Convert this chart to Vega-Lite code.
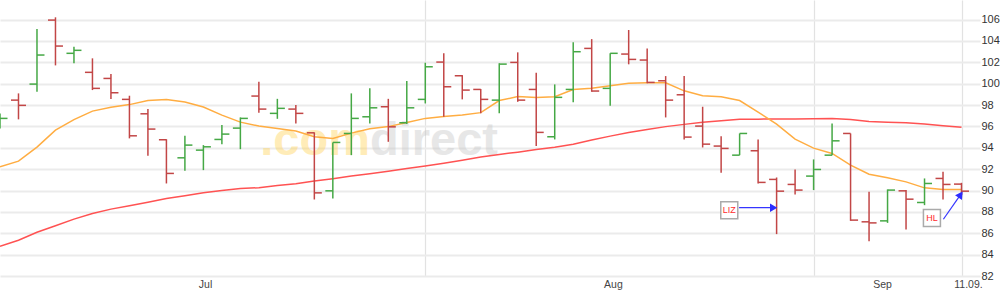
{
  "$schema": "https://vega.github.io/schema/vega-lite/v6.json",
  "width": 980,
  "height": 276,
  "autosize": {"type": "none"},
  "padding": {"left": 0, "top": 0, "right": 20, "bottom": 19},
  "background": "white",
  "config": {"view": {"stroke": null}, "font": "Liberation Sans"},
  "datasets": {
    "ohlc": [
      {"i": 0, "date": "2025-07-01", "o": 96.2, "h": 97.2, "l": 95.8, "c": 96.75, "ma1": 92.22, "ma2": 84.79},
      {"i": 1, "date": "2025-07-02", "o": 98.46, "h": 99.09, "l": 96.66, "c": 97.97, "ma1": 92.75, "ma2": 85.35},
      {"i": 2, "date": "2025-07-03", "o": 99.96, "h": 105.11, "l": 99.24, "c": 102.68, "ma1": 94.06, "ma2": 86.1},
      {"i": 3, "date": "2025-07-04", "o": 105.95, "h": 106.21, "l": 101.71, "c": 103.52, "ma1": 95.65, "ma2": 86.71},
      {"i": 4, "date": "2025-07-07", "o": 102.84, "h": 103.45, "l": 101.9, "c": 103.12, "ma1": 96.64, "ma2": 87.32},
      {"i": 5, "date": "2025-07-08", "o": 101.06, "h": 102.37, "l": 99.4, "c": 99.56, "ma1": 97.43, "ma2": 87.84},
      {"i": 6, "date": "2025-07-09", "o": 100.49, "h": 100.9, "l": 98.56, "c": 99.15, "ma1": 97.79, "ma2": 88.26},
      {"i": 7, "date": "2025-07-10", "o": 98.53, "h": 98.87, "l": 94.88, "c": 95.12, "ma1": 98.04, "ma2": 88.57},
      {"i": 8, "date": "2025-07-11", "o": 97.18, "h": 97.62, "l": 93.25, "c": 95.75, "ma1": 98.42, "ma2": 88.91},
      {"i": 9, "date": "2025-07-14", "o": 94.75, "h": 94.8, "l": 90.66, "c": 91.6, "ma1": 98.51, "ma2": 89.26},
      {"i": 10, "date": "2025-07-15", "o": 93.06, "h": 95.12, "l": 91.84, "c": 94.25, "ma1": 98.28, "ma2": 89.52},
      {"i": 11, "date": "2025-07-16", "o": 93.78, "h": 94.25, "l": 91.91, "c": 94.09, "ma1": 97.81, "ma2": 89.8},
      {"i": 12, "date": "2025-07-17", "o": 94.78, "h": 96.12, "l": 94.34, "c": 95.28, "ma1": 97.06, "ma2": 90.01},
      {"i": 13, "date": "2025-07-18", "o": 95.84, "h": 96.84, "l": 93.87, "c": 96.75, "ma1": 96.4, "ma2": 90.18},
      {"i": 14, "date": "2025-07-21", "o": 98.84, "h": 100.18, "l": 97.27, "c": 97.62, "ma1": 96.03, "ma2": 90.27},
      {"i": 15, "date": "2025-07-22", "o": 97.22, "h": 98.58, "l": 96.71, "c": 97.69, "ma1": 95.81, "ma2": 90.46},
      {"i": 16, "date": "2025-07-23", "o": 97.62, "h": 98.0, "l": 96.28, "c": 97.22, "ma1": 95.56, "ma2": 90.64},
      {"i": 17, "date": "2025-07-24", "o": 95.4, "h": 95.44, "l": 89.16, "c": 89.78, "ma1": 95.04, "ma2": 90.88},
      {"i": 18, "date": "2025-07-25", "o": 89.97, "h": 94.5, "l": 89.26, "c": 94.5, "ma1": 94.86, "ma2": 91.11},
      {"i": 19, "date": "2025-07-28", "o": 95.34, "h": 99.09, "l": 93.31, "c": 96.75, "ma1": 95.37, "ma2": 91.35},
      {"i": 20, "date": "2025-07-29", "o": 96.9, "h": 99.56, "l": 96.28, "c": 97.74, "ma1": 95.79, "ma2": 91.58},
      {"i": 21, "date": "2025-07-30", "o": 97.84, "h": 98.58, "l": 94.56, "c": 95.96, "ma1": 95.98, "ma2": 91.81},
      {"i": 22, "date": "2025-07-31", "o": 96.34, "h": 100.24, "l": 96.22, "c": 97.74, "ma1": 96.36, "ma2": 92.05},
      {"i": 23, "date": "2025-08-01", "o": 98.53, "h": 101.96, "l": 98.15, "c": 101.58, "ma1": 96.75, "ma2": 92.3},
      {"i": 24, "date": "2025-08-04", "o": 102.02, "h": 102.84, "l": 96.9, "c": 99.71, "ma1": 96.92, "ma2": 92.56},
      {"i": 25, "date": "2025-08-05", "o": 100.74, "h": 100.8, "l": 98.53, "c": 99.4, "ma1": 97.06, "ma2": 92.84},
      {"i": 26, "date": "2025-08-06", "o": 99.46, "h": 99.49, "l": 97.22, "c": 98.53, "ma1": 97.29, "ma2": 93.13},
      {"i": 27, "date": "2025-08-07", "o": 98.46, "h": 101.9, "l": 97.22, "c": 101.83, "ma1": 98.42, "ma2": 93.38},
      {"i": 28, "date": "2025-08-08", "o": 101.99, "h": 102.93, "l": 98.3, "c": 98.46, "ma1": 98.79, "ma2": 93.59},
      {"i": 29, "date": "2025-08-11", "o": 99.46, "h": 101.02, "l": 94.16, "c": 95.44, "ma1": 98.7, "ma2": 93.83},
      {"i": 30, "date": "2025-08-12", "o": 95.03, "h": 99.93, "l": 94.78, "c": 98.72, "ma1": 98.77, "ma2": 94.06},
      {"i": 31, "date": "2025-08-13", "o": 99.46, "h": 103.87, "l": 98.25, "c": 102.99, "ma1": 99.46, "ma2": 94.34},
      {"i": 32, "date": "2025-08-14", "o": 103.3, "h": 104.17, "l": 99.24, "c": 99.31, "ma1": 99.56, "ma2": 94.72},
      {"i": 33, "date": "2025-08-15", "o": 99.56, "h": 102.84, "l": 97.93, "c": 102.84, "ma1": 99.8, "ma2": 95.09},
      {"i": 34, "date": "2025-08-18", "o": 102.77, "h": 105.02, "l": 101.81, "c": 102.27, "ma1": 100.03, "ma2": 95.42},
      {"i": 35, "date": "2025-08-19", "o": 102.21, "h": 103.3, "l": 100.03, "c": 100.12, "ma1": 100.08, "ma2": 95.7},
      {"i": 36, "date": "2025-08-20", "o": 100.27, "h": 100.71, "l": 96.84, "c": 98.46, "ma1": 100.08, "ma2": 95.98},
      {"i": 37, "date": "2025-08-21", "o": 98.96, "h": 100.71, "l": 94.78, "c": 95.0, "ma1": 99.33, "ma2": 96.19},
      {"i": 38, "date": "2025-08-22", "o": 96.03, "h": 97.84, "l": 94.03, "c": 94.34, "ma1": 98.87, "ma2": 96.4},
      {"i": 39, "date": "2025-08-25", "o": 94.16, "h": 95.09, "l": 91.66, "c": 93.94, "ma1": 98.77, "ma2": 96.54},
      {"i": 40, "date": "2025-08-26", "o": 93.31, "h": 95.34, "l": 93.31, "c": 95.34, "ma1": 98.42, "ma2": 96.66},
      {"i": 41, "date": "2025-08-27", "o": 93.72, "h": 94.78, "l": 90.66, "c": 90.76, "ma1": 97.34, "ma2": 96.68},
      {"i": 42, "date": "2025-08-28", "o": 91.04, "h": 91.22, "l": 85.92, "c": 89.94, "ma1": 96.22, "ma2": 96.7},
      {"i": 43, "date": "2025-08-29", "o": 90.57, "h": 91.97, "l": 89.63, "c": 90.04, "ma1": 94.81, "ma2": 96.7},
      {"i": 44, "date": "2025-09-01", "o": 91.35, "h": 92.91, "l": 90.04, "c": 91.97, "ma1": 93.97, "ma2": 96.71},
      {"i": 45, "date": "2025-09-02", "o": 93.31, "h": 96.28, "l": 93.31, "c": 94.65, "ma1": 93.47, "ma2": 96.75},
      {"i": 46, "date": "2025-09-03", "o": 95.34, "h": 95.34, "l": 87.16, "c": 87.23, "ma1": 92.38, "ma2": 96.64},
      {"i": 47, "date": "2025-09-04", "o": 87.07, "h": 89.88, "l": 85.26, "c": 86.97, "ma1": 91.53, "ma2": 96.45},
      {"i": 48, "date": "2025-09-05", "o": 87.16, "h": 90.1, "l": 86.97, "c": 90.04, "ma1": 91.19, "ma2": 96.4},
      {"i": 49, "date": "2025-09-08", "o": 89.97, "h": 90.04, "l": 86.36, "c": 89.19, "ma1": 90.81, "ma2": 96.34},
      {"i": 50, "date": "2025-09-09", "o": 88.88, "h": 91.13, "l": 88.63, "c": 90.66, "ma1": 90.25, "ma2": 96.22},
      {"i": 51, "date": "2025-09-10", "o": 91.13, "h": 91.75, "l": 89.16, "c": 90.57, "ma1": 90.1, "ma2": 96.07},
      {"i": 52, "date": "2025-09-11", "o": 90.6, "h": 90.72, "l": 89.57, "c": 89.94, "ma1": 90.1, "ma2": 95.91}
    ],
    "notes": [
      {"label": "LIZ", "bi": 39.44, "bp": 88.15, "a1i": 39.97, "a1p": 88.39, "a2i": 41.84, "a2p": 88.39, "head": "triangle-right", "ang": 0},
      {"label": "HL", "bi": 50.4, "bp": 87.43, "a1i": 51.02, "a1p": 87.31, "a2i": 51.95, "a2p": 89.62, "head": "triangle-up", "ang": 35}
    ],
    "wm": [
      {"t": ".com", "i": 20.01, "p": 93.32},
      {"t": "direct", "i": 20.01, "p": 93.32}
    ]
  },
  "layer": [
    {
      "data": {"name": "ohlc"},
      "mark": {"type": "rule", "strokeWidth": 0, "opacity": 0},
      "encoding": {
        "x": {"field": "i", "type": "quantitative", "title": null,
          "scale": {"domain": [0, 53], "nice": false, "zero": false},
          "axis": {
            "values": [11.09, 23, 33.15, 44, 47.7, 52, 52.35],
            "tickCount": 20,
            "labelExpr": "datum.value == 11.09 ? 'Jul' : datum.value == 33.15 ? 'Aug' : datum.value == 47.7 ? 'Sep' : datum.value == 52.35 ? '11.09.' : ''",
            "grid": true,
            "gridColor": "#e2e2e2",
            "gridWidth": 1.2,
            "gridOpacity": {"condition": {"test": "datum.value == 23 || datum.value == 44 || datum.value == 52", "value": 1}, "value": 0},
            "ticks": false, "domain": false, "labelPadding": 3,
            "labelFontSize": 10.5, "labelColor": "#444", "labelOverlap": false, "labelFlush": false, "labelFont": "Liberation Sans"
          }
        },
        "y": {"field": "h", "type": "quantitative", "title": null,
          "scale": {"domain": [82, 107.83], "nice": false, "zero": false},
          "axis": {
            "orient": "right",
            "values": [82, 84, 86, 88, 90, 92, 94, 96, 98, 100, 102, 104, 106],
            "tickCount": 20,
            "grid": true, "gridColor": "#ebebeb", "gridWidth": 2,
            "ticks": false, "domain": false, "labelPadding": 1,
            "labelOverlap": false, "labelFlush": false, "labelBound": false,
            "labelFontSize": 11, "labelColor": "#333", "labelFont": "Liberation Sans"
          }
        }
      }
    },
    {
      "data": {"name": "wm"},
      "transform": [{"filter": "datum.t == '.com'"}],
      "mark": {"type": "text", "align": "right", "baseline": "alphabetic", "font": "Liberation Sans", "fontWeight": "bold", "fontSize": 47, "color": "#ffd24f", "opacity": 0.4},
      "encoding": {
        "x": {"field": "i", "type": "quantitative", "title": null},
        "y": {"field": "p", "type": "quantitative", "title": null},
        "text": {"field": "t"}
      }
    },
    {
      "data": {"name": "wm"},
      "transform": [{"filter": "datum.t == 'direct'"}],
      "mark": {"type": "text", "align": "left", "baseline": "alphabetic", "font": "Liberation Sans", "fontWeight": "bold", "fontSize": 47, "color": "#c4c4c4", "opacity": 0.4},
      "encoding": {
        "x": {"field": "i", "type": "quantitative", "title": null},
        "y": {"field": "p", "type": "quantitative", "title": null},
        "text": {"field": "t"}
      }
    },
    {
      "data": {"name": "ohlc"},
      "mark": {"type": "line", "color": "#ff5252", "strokeWidth": 1.5, "clip": true},
      "encoding": {
        "x": {"field": "i", "type": "quantitative", "title": null},
        "y": {"field": "ma2", "type": "quantitative", "title": null}
      }
    },
    {
      "data": {"name": "ohlc"},
      "mark": {"type": "line", "color": "#ffad42", "strokeWidth": 1.5, "clip": true},
      "encoding": {
        "x": {"field": "i", "type": "quantitative", "title": null},
        "y": {"field": "ma1", "type": "quantitative", "title": null}
      }
    },
    {
      "data": {"name": "ohlc"},
      "mark": {"type": "rule", "strokeWidth": 1.5, "clip": true},
      "encoding": {
        "x": {"field": "i", "type": "quantitative", "title": null},
        "y": {"field": "l", "type": "quantitative", "title": null},
        "y2": {"field": "h"},
        "color": {"condition": {"test": "datum.c >= datum.o", "value": "#45a845"}, "value": "#c24646"}
      }
    },
    {
      "data": {"name": "ohlc"},
      "mark": {"type": "rule", "strokeWidth": 1.5, "xOffset": -7.5, "clip": true},
      "encoding": {
        "x": {"field": "i", "type": "quantitative", "title": null},
        "x2": {"field": "i"},
        "y": {"field": "o", "type": "quantitative", "title": null},
        "color": {"condition": {"test": "datum.c >= datum.o", "value": "#45a845"}, "value": "#c24646"}
      }
    },
    {
      "data": {"name": "ohlc"},
      "mark": {"type": "rule", "strokeWidth": 1.5, "x2Offset": 7.5, "clip": true},
      "encoding": {
        "x": {"field": "i", "type": "quantitative", "title": null},
        "x2": {"field": "i"},
        "y": {"field": "c", "type": "quantitative", "title": null},
        "color": {"condition": {"test": "datum.c >= datum.o", "value": "#45a845"}, "value": "#c24646"}
      }
    },
    {
      "data": {"name": "notes"},
      "mark": {"type": "rule", "color": "#3535ff", "strokeWidth": 1.2},
      "encoding": {
        "x": {"field": "a1i", "type": "quantitative", "title": null},
        "x2": {"field": "a2i"},
        "y": {"field": "a1p", "type": "quantitative", "title": null},
        "y2": {"field": "a2p"}
      }
    },
    {
      "data": {"name": "notes"},
      "mark": {"type": "point", "filled": true, "size": 70, "fill": "#2c2cff", "strokeWidth": 0, "opacity": 1},
      "encoding": {
        "x": {"field": "a2i", "type": "quantitative", "title": null},
        "y": {"field": "a2p", "type": "quantitative", "title": null},
        "shape": {"field": "head", "type": "nominal", "scale": null},
        "angle": {"field": "ang", "type": "quantitative", "scale": null}
      }
    },
    {
      "data": {"name": "notes"},
      "mark": {"type": "point", "shape": "square", "size": 289, "filled": true, "fill": "white", "stroke": "#aaaaaa", "strokeWidth": 1.5, "opacity": 1},
      "encoding": {
        "x": {"field": "bi", "type": "quantitative", "title": null},
        "y": {"field": "bp", "type": "quantitative", "title": null}
      }
    },
    {
      "data": {"name": "notes"},
      "mark": {"type": "text", "align": "center", "baseline": "middle", "fontSize": 9, "color": "#ff2b2b", "font": "Liberation Sans"},
      "encoding": {
        "x": {"field": "bi", "type": "quantitative", "title": null},
        "y": {"field": "bp", "type": "quantitative", "title": null},
        "text": {"field": "label"}
      }
    }
  ]
}
